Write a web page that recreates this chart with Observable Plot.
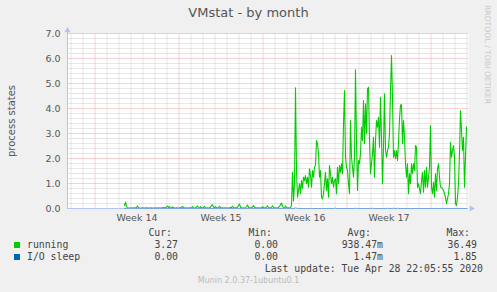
<!DOCTYPE html>
<html><head><meta charset="utf-8">
<script src="https://cdn.jsdelivr.net/npm/d3@7"></script>
<script src="https://cdn.jsdelivr.net/npm/@observablehq/plot@0.6"></script>
<style>
body{margin:0;background:#f0f0f0;}
#wrap{position:relative;width:497px;height:292px;overflow:hidden;font-family:"DejaVu Sans",sans-serif;color:#666;background:#f0f0f0;}
#title{height:25px;line-height:26px;text-align:center;font-size:13px;color:#555;}
#chart svg{display:block;}
#rrd{position:absolute;left:492px;top:5px;transform-origin:0 0;transform:rotate(90deg);font-size:7.7px;line-height:9px;color:#cacaca;white-space:nowrap;}
.leg{position:absolute;font-family:"DejaVu Sans Mono",monospace;font-size:9.8px;line-height:12px;color:#444;white-space:pre;}
.sq{position:absolute;width:6px;height:6px;}
#munin{position:absolute;left:0;width:497px;top:276px;text-align:center;font-size:8px;line-height:10px;color:#bbb;}
</style>
</head><body>
<div id="wrap">
  <div id="title"></div>
  <div id="chart"></div>
  <div id="rrd">RRDTOOL / TOBI OETIKER</div>
  <div id="legend"></div>
  <div id="munin"></div>
</div>
<script>
const titleText = "VMstat - by month";
const yLabel = "process states";
const weekLabels = ["Week 14","Week 15","Week 16","Week 17"];
const weekStartDates = ["2020-03-29","2020-04-05","2020-04-12","2020-04-19","2020-04-26"];
const seriesNames = ["running","I/O sleep"];
const seriesColors = ["#00cc00","#0066b3"];
const statHeaders = ["Cur:","Min:","Avg:","Max:"];
const statsRunning = ["3.27","0.00","938.47m","36.49"];
const statsIo = ["0.00","0.00","1.47m","1.85"];
const lastUpdate = "Last update: Tue Apr 28 22:05:55 2020";
const footer = "Munin 2.0.37-1ubuntu0.1";
const yTicks = [0,1,2,3,4,5,6,7];

// samples every 2 hours starting 2020-03-31 11:00 UTC
const sampleStart = "2020-03-31T11:00:00Z";
const sampleStepHours = 2;
const running = [
0.12,0.25,0.08,0.03,0.02,0.02,0.03,0.02,0.02,0.03,
0.02,0.03,0.04,0.10,0.03,0.02,0.02,0.02,0.03,0.02,
0.02,0.02,0.03,0.02,0.02,0.02,0.03,0.02,0.02,0.02,
0.02,0.03,0.02,0.02,0.03,0.02,0.02,0.03,0.02,0.04,
0.03,0.02,0.05,0.10,0.04,0.08,0.03,0.02,0.06,0.03,
0.02,0.02,0.03,0.02,0.02,0.03,0.02,0.05,0.08,0.04,
0.02,0.03,0.02,0.02,0.03,0.02,0.03,0.02,0.08,0.03,
0.02,0.03,0.06,0.10,0.03,0.02,0.07,0.03,0.02,0.04,
0.08,0.03,0.02,0.03,0.02,0.03,0.05,0.12,0.15,0.06,
0.03,0.08,0.02,0.03,0.02,0.09,0.04,0.02,0.03,0.02,
0.03,0.02,0.03,0.02,0.02,0.03,0.05,0.03,0.09,0.04,
0.02,0.03,0.02,0.06,0.12,0.18,0.05,0.03,0.02,0.03,
0.02,0.03,0.08,0.14,0.04,0.02,0.03,0.02,0.06,0.12,
0.04,0.03,0.02,0.03,0.02,0.03,0.02,0.03,0.07,0.04,
0.02,0.03,0.06,0.10,0.04,0.02,0.03,0.05,0.11,0.04,
0.02,0.03,0.02,0.03,0.05,0.08,0.15,0.22,0.08,0.03,
0.02,0.10,0.04,0.02,0.03,0.02,0.04,
0.12,1.45,0.30,1.00,4.83,1.52,0.45,0.72,0.99,0.59,
1.12,0.79,1.25,1.12,1.32,0.99,1.25,0.85,1.59,1.32,
0.85,1.52,1.25,1.65,1.72,2.72,2.59,2.19,1.25,1.52,
0.45,0.39,0.59,0.99,
1.45,0.72,1.19,0.45,1.72,1.39,0.99,1.25,0.85,1.12,
1.19,0.59,1.65,0.99,1.72,1.45,1.79,1.39,3.39,4.72,
2.05,1.65,1.52,0.99,0.59,3.52,2.05,1.65,1.25,2.05,
5.55,2.72,0.72,1.92,1.79,2.19,3.25,2.72,4.32,2.59,
4.19,2.99,4.79,4.85,2.72,1.39,1.79,2.19,2.85,1.25,
2.72,3.52,3.25,3.65,2.45,4.45,2.85,0.99,2.45,4.59,
2.32,2.05,2.32,2.45,2.99,4.72,6.12,4.45,2.05,2.32,
1.99,2.32,1.92,2.65,3.59,4.12,4.16,2.59,3.52,2.85,
1.79,1.25,1.79,0.59,1.39,0.99,1.79,1.39,1.79,1.52,
2.52,2.45,0.85,0.99,0.79,0.59,1.12,1.45,0.65,1.52,
0.85,1.65,0.85,1.25,1.65,3.32,0.85,0.59,1.05,0.45,
1.39,0.72,1.59,1.79,1.25,0.85,0.85,0.79,0.72,0.59,
0.45,0.19,0.39,0.59,0.99,2.65,2.05,2.32,2.52,2.05,
0.19,0.12,0.45,0.99,2.19,3.92,3.12,2.32,2.85,0.85,
2.05,3.27
];
const ioSleep = [
0,0,0,0,0,0,0,0,0,0,0,0,0,0,0,0,0,0,0,0,
0,0,0,0,0,0,0,0,0,0,0,0,0,0,0,0,0,0,0,0,
0,0,0,0,0,0,0,0,0,0,0,0,0,0,0,0,0,0,0,0,
0,0,0,0,0,0,0,0,0,0,0,0,0,0,0,0,0,0,0,0,
0,0,0,0,0,0,0,0,0,0,0,0,0,0,0,0,0,0,0,0,
0,0,0,0,0,0,0,0,0,0,0,0,0,0,0,0,0,0,0,0,
0,0,0,0,0,0,0,0,0,0,0,0,0,0,0,0,0,0,0,0,
0,0,0,0,0,0,0,0,0,0,0,0,0,0,0,0,0,0,0,0,
0,0,0,0,0,0,0,0,0,0,0,0.06,0.02,0,0,0,0,0,0,0,
0,0,0,0,0,0,0,0,0,0,0,0,0,0,0,0,0,0,0,0,
0,0,0,0,0,0,0,0,0,0,0,0.03,0,0,0,0,0,0,0,0,
0,0,0,0,0,0,0,0,0,0,0,0.03,0,0,0,0,0,0,0,0,
0,0,0,0,0,0,0,0,0.03,0,0,0,0,0,0,0,0,0,0,0,
0,0,0,0.03,0,0,0,0,0,0.03,0,0,0,0.03,0,0,0,0,0,0,
0,0,0,0,0,0,0,0,0,0,0,0,0,0,0,0,0,0,0,0,
0,0,0,0,0,0,0,0,0,0,0,0,0,0,0,0,0,0,0,0,
0,0,0,0,0,0,0,0,0,0,0,0,0,0,0,0,0,0,0,0,
0,0,0
];

document.getElementById("title").textContent = titleText;
document.getElementById("munin").textContent = footer;

const t0 = new Date(sampleStart).getTime();
const data = running.map((v, i) => ({
  t: new Date(t0 + i * sampleStepHours * 3600e3),
  running: v,
  io: ioSleep[i]
}));

const weekStarts = weekStartDates.map(s => new Date(s + "T00:00:00Z"));
const weekMid = weekLabels.map((l, i) => new Date(+weekStarts[i] + 3.5 * 864e5));
const labelByTime = new Map(weekMid.map((d, i) => [+d, weekLabels[i]]));
const xDomain = [new Date("2020-03-26T17:00:00Z"), new Date("2020-04-29T03:00:00Z")];
const days = d3.utcDay.range(d3.utcDay.ceil(xDomain[0]), xDomain[1]).filter(d => d.getUTCDay() !== 0);
const yMinor = d3.range(1, 35).map(i => i / 5).filter(v => Math.abs(v - Math.round(v)) > 1e-6);
const yMajor = yTicks.filter(v => v > 0);

const axisCol = "#b3c3f2";
const minorCol = "#cfcfcf";
const majorCol = "#f0a4a4";
const dots = {strokeDasharray: "1,1", strokeDashoffset: 0.5};

const chart = Plot.plot({
  width: 497, height: 200,
  marginTop: 8, marginBottom: 17, marginLeft: 67, marginRight: 29,
  style: {background: "transparent", fontFamily: "DejaVu Sans", fontSize: "9.5px", color: "#555", overflow: "visible"},
  x: {type: "utc", domain: xDomain, axis: null},
  y: {domain: [0, 7], axis: null},
  marks: [
    Plot.frame({fill: "white", stroke: "none"}),
    Plot.ruleY(yMinor, {stroke: minorCol, ...dots}),
    Plot.ruleX(days, {stroke: minorCol, ...dots}),
    Plot.ruleY(yMajor, {stroke: majorCol, ...dots}),
    Plot.ruleX(weekStarts, {stroke: majorCol, ...dots}),
    Plot.line(data, {x: "t", y: "running", stroke: seriesColors[0], strokeWidth: 1.1}),
    Plot.ruleY([0], {stroke: axisCol}),
    Plot.ruleX([xDomain[0]], {y1: 0, y2: 7.1, stroke: axisCol}),
    Plot.line(data, {x: "t", y: "io", stroke: seriesColors[1], strokeWidth: 1, strokeOpacity: 0.35}),
    Plot.dot([0], {x: () => xDomain[0], y: () => 7, symbol: "triangle", r: 2.3, fill: axisCol, stroke: "none", dy: -3}),
    Plot.dot([0], {x: () => xDomain[1], y: () => 0, symbol: "triangle", r: 2.3, fill: axisCol, stroke: "none", rotate: 90, dx: 3}),
    Plot.axisY(yTicks, {tickSize: 0, tickPadding: 7, tickFormat: d => d.toFixed(1), label: null}),
    Plot.axisX(weekMid, {tickSize: 0, tickPadding: 6, tickFormat: d => labelByTime.get(+d), label: null}),
    Plot.text([yLabel], {frameAnchor: "left", textAnchor: "middle", dx: -56, rotate: -90, fontSize: 10, fill: "#555"})
  ]
});
document.getElementById("chart").appendChild(chart);

// legend
const leg = document.getElementById("legend");
function addText(txt, opts) {
  const d = document.createElement("div");
  d.className = "leg";
  d.textContent = txt;
  Object.assign(d.style, opts);
  leg.appendChild(d);
}
const headerRight = [172, 272, 371, 470];
const valueRight = [178, 278, 383, 477];
statHeaders.forEach((h, i) => addText(h, {top: "227px", right: (497 - headerRight[i]) + "px"}));
[statsRunning, statsIo].forEach((row, r) => {
  const top = r === 0 ? 239 : 251;
  const sq = document.createElement("div");
  sq.className = "sq";
  Object.assign(sq.style, {left: "14px", top: (top + 3) + "px", background: seriesColors[r]});
  leg.appendChild(sq);
  addText(seriesNames[r], {top: top + "px", left: "27px"});
  row.forEach((v, i) => addText(v, {top: top + "px", right: (497 - valueRight[i]) + "px"}));
});
addText(lastUpdate, {top: "263px", right: "14px"});
</script>
</body></html>
